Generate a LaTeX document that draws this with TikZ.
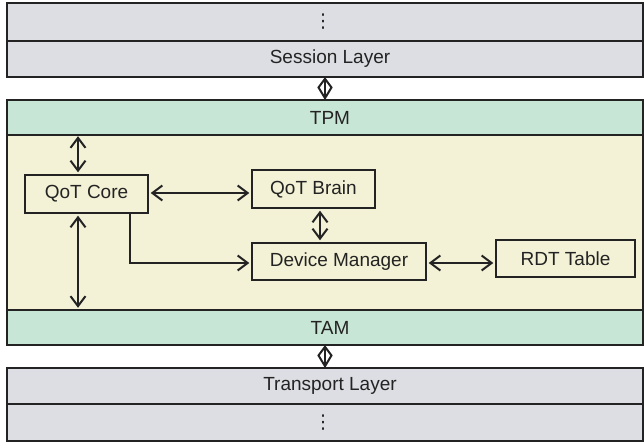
\documentclass[tikz,border=0pt]{standalone}
\usepackage{fontspec}
\setmainfont{Liberation Sans}
\newfontfamily\dejavu{DejaVu Sans}
\usetikzlibrary{arrows.meta,calc}
\definecolor{laygray}{RGB}{220,222,227}
\definecolor{laygreen}{RGB}{200,230,214}
\definecolor{layyellow}{RGB}{243,242,214}
\definecolor{ink}{RGB}{35,35,35}
\newcommand{\shiftedtext}[1]{\hspace*{10pt}#1}
\begin{document}
\begin{tikzpicture}[x=1pt,y=-1pt,
  txt/.style={font=\fontsize{19}{20}\selectfont, text=ink},
  layer/.style={draw=ink, line width=1.6pt, inner sep=0pt, minimum width=636pt, txt},
  dotsty/.style={font=\dejavu\fontsize{19}{20}\selectfont, text=ink, inner sep=0pt},
  box/.style={draw=ink, line width=1.4pt, fill=layyellow, inner sep=0pt, txt},
  barbtip/.tip={Straight Barb[length=10pt,width=15pt]},
  link/.style={draw=ink, line width=2pt, barbtip-barbtip, shorten <=2pt, shorten >=2pt},
  oneway/.style={draw=ink, line width=2pt, -barbtip, shorten >=2pt},
  diam/.style={draw=ink, line width=2pt, line join=miter}
]
\useasboundingbox (0,0) rectangle (644,442);
% upper layers
\node[layer, fill=laygray, minimum height=38pt] (dotsA) at (325,22) {};
\node[dotsty] (dotsAtxt) at (323,22) {⋮};
\node[layer, fill=laygray, minimum height=36pt] (session) at (325,59) {\shiftedtext{Session Layer}};
% middle block
\node[layer, fill=laygreen, minimum height=35pt] (tpm) at (325,117.5) {\shiftedtext{TPM}};
\node[layer, fill=layyellow, minimum height=175pt] (body) at (325,222.5) {};
\node[layer, fill=laygreen, minimum height=35pt] (tam) at (325,327.5) {\shiftedtext{TAM}};
% lower layers
\node[layer, fill=laygray, minimum height=36pt] (transport) at (325,386) {\shiftedtext{Transport Layer}};
\node[layer, fill=laygray, minimum height=37pt] (dotsB) at (325,422.5) {};
\node[dotsty] (dotsBtxt) at (323,422.5) {⋮};
% inner boxes
\node[box, minimum width=123pt, minimum height=38pt] (core) at (86.5,194) {QoT Core};
\node[box, minimum width=123pt, minimum height=38pt] (brain) at (313.5,189) {QoT Brain};
\node[box, minimum width=174pt, minimum height=37pt] (dm) at (339,261.5) {Device Manager};
\node[box, minimum width=139pt, minimum height=37pt] (rdt) at (565.5,258.5) {RDT Table};
% helper coordinates
\coordinate (xc) at (78,0);
\coordinate (yb) at (0,193);
\coordinate (xb) at (320,0);
\coordinate (k) at (130,263);
% connectors
\draw[link] (body.north -| xc) -- (core.north -| xc);
\draw[link, shorten >=3pt] (core.south -| xc) -- (body.south -| xc);
\draw[link] (core.east |- yb) -- (brain.west |- yb);
\draw[link] (brain.south -| xb) -- (dm.north -| xb);
\draw[oneway] (core.south -| k) |- (dm.west |- k);
\draw[link] (dm.east |- k) -- (rdt.west |- k);
% diamond connectors between layers
\foreach \a/\b in {session/tpm, tam/transport}{
  \draw[diam] (\a.south) -- (\b.north);
  \draw[diam] ($(\a.south)+(0,1)$) -- ($(\a.south)!0.45!(\b.north)+(6.5,0)$)
     -- ($(\b.north)+(0,-1)$) -- ($(\a.south)!0.45!(\b.north)+(-6.5,0)$) -- cycle;
}
\end{tikzpicture}
\end{document}
